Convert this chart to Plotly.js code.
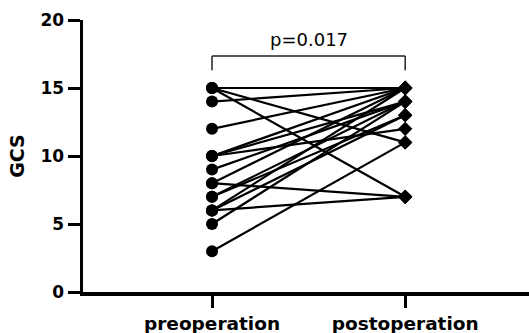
<!DOCTYPE html>
<html>
<head>
<meta charset="utf-8">
<script src="https://cdn.plot.ly/plotly-3.0.1.min.js"></script>
<style>html,body{margin:0;padding:0;background:#fff;}#chart{width:529px;height:333px;}</style>
</head>
<body>
<div id="chart"></div>
<script>
// Categories
const categories = ["preoperation", "postoperation"];
// Paired GCS values per patient
const preValues  = [15, 15, 15, 14, 12, 10, 10, 10, 9, 8, 8, 7, 7, 6, 6, 6, 5, 3];
const postValues = [15, 11, 7, 15, 15, 15, 14, 12, 14, 7, 15, 14, 13, 7, 15, 13, 14, 11];
// Y-axis ticks
const yTicks = [0, 5, 10, 15, 20];
// Significance annotation
const pText = "p=0.017";
const bracketTop = 17.35;
const bracketBottom = 16.3;
const pLabelY = 18.6;

const traces = [];
// Connecting lines
for (let i = 0; i < preValues.length; i++) {
  traces.push({
    type: "scatter", mode: "lines",
    x: categories, y: [preValues[i], postValues[i]],
    line: {color: "#000", width: 2.2},
    hoverinfo: "skip", showlegend: false
  });
}
// Pre markers (circles)
traces.push({
  type: "scatter", mode: "markers",
  x: preValues.map(() => categories[0]), y: preValues,
  marker: {symbol: "circle", size: 12, color: "#000"},
  showlegend: false
});
// Post markers (diamonds)
traces.push({
  type: "scatter", mode: "markers",
  x: postValues.map(() => categories[1]), y: postValues,
  marker: {symbol: "diamond", size: 11, color: "#000"},
  showlegend: false
});

const layout = {
  width: 529, height: 333,
  margin: {l: 83, r: 0, t: 20, b: 41},
  paper_bgcolor: "#fff", plot_bgcolor: "#fff",
  font: {family: "DejaVu Sans, Arial, sans-serif", color: "#000"},
  xaxis: {
    type: "category", categoryorder: "array", categoryarray: categories,
    range: [-0.668, 1.641],
    showline: true, linecolor: "#000", linewidth: 3.5,
    ticks: "outside", ticklen: 12, tickwidth: 3, tickcolor: "#000",
    showgrid: false, zeroline: false,
    tickfont: {family: "DejaVu Sans", size: 18.5, color: "#000", weight: "bold"}
  },
  yaxis: {
    range: [0, 20], tickvals: yTicks, ticktext: yTicks.map(String),
    showline: true, linecolor: "#000", linewidth: 3.5,
    ticks: "outside", ticklen: 12, tickwidth: 3, tickcolor: "#000",
    showgrid: false, zeroline: false,
    tickfont: {family: "DejaVu Sans", size: 17, color: "#000", weight: "bold"},
    title: {text: "GCS", standoff: 12, font: {family: "DejaVu Sans", size: 19, color: "#000", weight: "bold"}}
  },
  shapes: [
    {type: "line", xref: "x", yref: "y", x0: 0, x1: 1, y0: bracketTop, y1: bracketTop, line: {color: "#222", width: 1.5}},
    {type: "line", xref: "x", yref: "y", x0: 0, x1: 0, y0: bracketTop, y1: bracketBottom, line: {color: "#222", width: 1.5}},
    {type: "line", xref: "x", yref: "y", x0: 1, x1: 1, y0: bracketTop, y1: bracketBottom, line: {color: "#222", width: 1.5}}
  ],
  annotations: [
    {xref: "x", yref: "y", x: 0.5, y: pLabelY, text: pText, showarrow: false,
     font: {family: "DejaVu Sans", size: 18, color: "#000"}}
  ]
};

Plotly.newPlot("chart", traces, layout, {displayModeBar: false, staticPlot: true});
</script>
</body>
</html>
